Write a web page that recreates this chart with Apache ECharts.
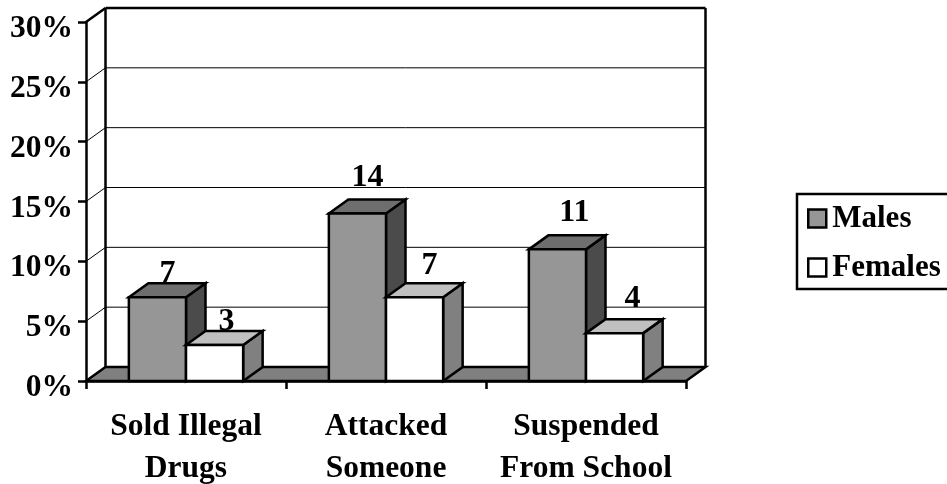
<!DOCTYPE html>
<html>
<head>
<meta charset="utf-8">
<style>html,body{margin:0;padding:0;background:#fff}#chart{width:947px;height:484px}</style>
<script src="https://cdn.jsdelivr.net/npm/echarts@6/dist/echarts.min.js"></script>
</head>
<body>
<div id="chart"></div>
<script>
// Share of students reporting each behaviour, by gender
const categories = ['Sold Illegal\nDrugs', 'Attacked\nSomeone', 'Suspended\nFrom School'];
const males = [7, 14, 11];
const females = [3, 7, 4];
const gridValues = [0, 5, 10, 15, 20, 25, 30];

// Pseudo-3D projection and the hand-placed value label offsets
const DEPTH_X = 19.5, DEPTH_Y = -14;
const BARS_PER_BAND = 3.5;
const FONT = '"Liberation Serif", serif';
const maleLabelShift = [[10, 15], [10, 27], [17, 28]];
const femaleLabelShift = [[12, 15], [15, 23], [18, 26]];
const INK = '#000';
const HEAVY = 2.5;

const maleFaces = { front: '#969696', top: '#6e6e6e', side: '#4b4b4b' };
const femaleFaces = { front: '#ffffff', top: '#c0c0c0', side: '#808080' };

const face = (pts, fill) => ({
  type: 'polygon',
  shape: { points: pts },
  style: { fill, stroke: INK, lineWidth: HEAVY, lineJoin: 'miter' }
});

// One extruded bar plus its value label; side = 0 for the left bar, 1 for the right
function barRenderer(side, faces, shifts) {
  return function (params, api) {
    const i = api.value(0), v = api.value(1);
    const top = api.coord([i, v]);
    const base = api.coord([i, 0]);
    const w = api.size([1, 0])[0] / BARS_PER_BAND;
    const x0 = top[0] - w + side * w, x1 = x0 + w;
    const y0 = top[1], y1 = base[1];
    const dx = DEPTH_X, dy = DEPTH_Y;
    return {
      type: 'group',
      children: [
        face([[x1, y0], [x1 + dx, y0 + dy], [x1 + dx, y1 + dy], [x1, y1]], faces.side),
        face([[x0, y0], [x0 + dx, y0 + dy], [x1 + dx, y0 + dy], [x1, y0]], faces.top),
        face([[x0, y0], [x1, y0], [x1, y1], [x0, y1]], faces.front),
        {
          type: 'text',
          z2: 10,
          style: {
            x: (x0 + x1) / 2 + shifts[i][0],
            y: y0 - shifts[i][1] - 8.5,
            text: String(v),
            font: 'bold 32px ' + FONT,
            fill: INK,
            align: 'center',
            verticalAlign: 'middle'
          }
        }
      ]
    };
  };
}

// Side wall struts and back wall gridlines, one per axis tick
function wallRenderer(params, api) {
  const p = api.coord([0, api.value(0)]);
  const cs = params.coordSys;
  const xL = cs.x, xR = cs.x + cs.width;
  const y = p[1];
  const isEdge = api.value(0) === 30;
  const line = { stroke: INK, lineWidth: isEdge ? HEAVY : 1 };
  const children = [
    { type: 'line', shape: { x1: xL, y1: y, x2: xL + DEPTH_X, y2: y + DEPTH_Y }, style: line }
  ];
  if (api.value(0) !== 0) {
    children.push({ type: 'line', shape: { x1: xL + DEPTH_X, y1: y + DEPTH_Y, x2: xR + DEPTH_X, y2: y + DEPTH_Y }, style: line });
  }
  return { type: 'group', children };
}

// Floor slab and the outline of the back wall
function frameRenderer(params) {
  const cs = params.coordSys;
  const xL = cs.x, xR = cs.x + cs.width, yT = cs.y, yB = cs.y + cs.height;
  const s = { stroke: INK, lineWidth: HEAVY, fill: 'none' };
  return {
    type: 'group',
    children: [
      { type: 'polygon', shape: { points: [[xL, yB], [xL + DEPTH_X, yB + DEPTH_Y], [xR + DEPTH_X, yB + DEPTH_Y], [xR, yB]] },
        style: { fill: '#808080', stroke: INK, lineWidth: HEAVY } },
      { type: 'line', shape: { x1: xL + DEPTH_X, y1: yT + DEPTH_Y, x2: xL + DEPTH_X, y2: yB + DEPTH_Y }, style: s },
      { type: 'line', shape: { x1: xR + DEPTH_X, y1: yT + DEPTH_Y, x2: xR + DEPTH_X, y2: yB + DEPTH_Y }, style: s }
    ]
  };
}

const chart = echarts.init(document.getElementById('chart'), null, { renderer: 'canvas' });
const axisText = { fontFamily: FONT, fontWeight: 'bold', color: INK };

chart.setOption({
  animation: false,
  backgroundColor: '#fff',
  grid: { left: 86, right: 261, top: 22, bottom: 103, containLabel: false, outerBoundsMode: 'none' },
  xAxis: {
    type: 'category',
    data: categories,
    axisLine: { show: true, lineStyle: { color: INK, width: HEAVY } },
    axisTick: { show: true, alignWithLabel: false, length: 8, lineStyle: { color: INK, width: HEAVY } },
    axisLabel: { ...axisText, fontSize: 31.5, lineHeight: 42, margin: 25, interval: 0 },
    z: 5
  },
  yAxis: {
    type: 'value',
    min: 0,
    max: 30,
    interval: 5,
    axisLine: { show: true, lineStyle: { color: INK, width: HEAVY } },
    axisTick: { show: true, length: 8, lineStyle: { color: INK, width: HEAVY } },
    axisLabel: { ...axisText, fontSize: 31.5, margin: 13, formatter: '{value}%', verticalAlign: 'top', lineHeight: 14 },
    splitLine: { show: false },
    z: 5
  },
  legend: {
    left: 797,
    top: 194,
    orient: 'vertical',
    padding: [9, 10, 6, 10],
    itemGap: 18,
    itemWidth: 18,
    itemHeight: 18,
    icon: 'rect',
    borderColor: INK,
    borderWidth: HEAVY,
    textStyle: { ...axisText, fontSize: 31, padding: [0, 0, 0, 1] },
    data: [
      { name: 'Males', itemStyle: { color: maleFaces.front, borderColor: INK, borderWidth: HEAVY } },
      { name: 'Females', itemStyle: { color: femaleFaces.front, borderColor: INK, borderWidth: HEAVY } }
    ]
  },
  series: [
    { type: 'custom', name: 'wall', z: 1, silent: true, encode: { x: 1, y: 0 },
      data: gridValues.map(v => [v, 0]), renderItem: wallRenderer },
    { type: 'custom', name: 'frame', z: 1, silent: true,
      data: [[0, 0]], renderItem: frameRenderer },
    { type: 'custom', name: 'Males', z: 3, itemStyle: { color: maleFaces.front },
      encode: { x: 0, y: 1 },
      data: males.map((v, i) => [i, v]), renderItem: barRenderer(0, maleFaces, maleLabelShift) },
    { type: 'custom', name: 'Females', z: 4, itemStyle: { color: femaleFaces.front },
      encode: { x: 0, y: 1 },
      data: females.map((v, i) => [i, v]), renderItem: barRenderer(1, femaleFaces, femaleLabelShift) }
  ]
});
</script>
</body>
</html>
